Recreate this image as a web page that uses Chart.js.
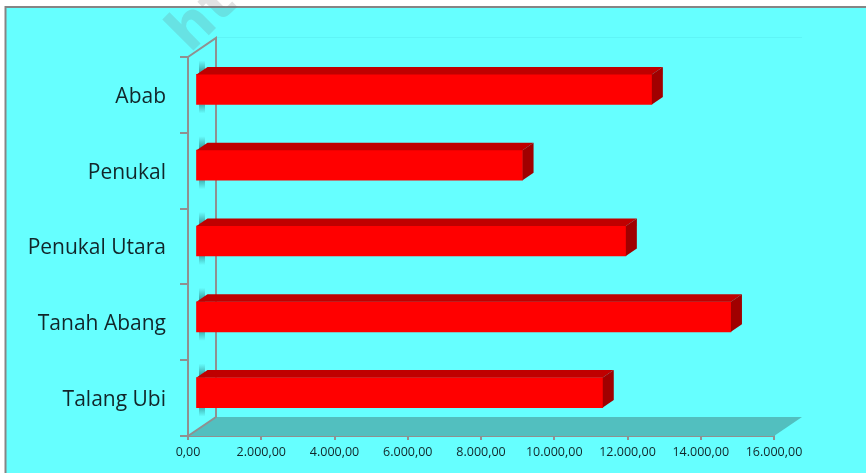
<!DOCTYPE html>
<html>
<head>
<meta charset="utf-8">
<title>Bar chart</title>
<script src="https://cdn.jsdelivr.net/npm/chart.js@4"></script>
<style>
  html, body { margin: 0; padding: 0; background: #fff; overflow: hidden; }
  canvas { display: block; }
</style>
</head>
<body>
<canvas id="chart" width="866" height="473"></canvas>
<script>
/* Data */
const categories = ['Abab', 'Penukal', 'Penukal Utara', 'Tanah Abang', 'Talang Ubi'];
const values = [12460, 8930, 11750, 14620, 11120];
const axisMax = 16000;
const axisStep = 2000;
const watermark = 'htt';

/* Colours */
const BG = '#66ffff';
const FRONT = '#ff0000';
const TOP = '#bf0000';
const SIDE = '#a00000';
const AXIS = '#909090';
const FLOOR = '#52bfbf';
const INK = '#12262a';

/* 3D look: depth of the box walls and of the bars inside them */
const WALL_DX = 28, WALL_DY = 19;
const BAR_OFF_X = 8, BAR_OFF_Y = -5.5;
const BAR_DX = 11, BAR_DY = 7.5;

const box3d = {
  id: 'box3d',
  beforeDraw(chart) {
    const { ctx, width, height } = chart;
    ctx.save();
    ctx.fillStyle = '#fff';
    ctx.fillRect(0, 0, width, height);
    ctx.fillStyle = BG;
    ctx.fillRect(6, 7, width - 6, height - 7);
    ctx.strokeStyle = '#858585';
    ctx.lineWidth = 2;
    ctx.beginPath();
    ctx.moveTo(5.5, height);
    ctx.lineTo(5.5, 7);
    ctx.lineTo(width, 7);
    ctx.stroke();

    // watermark
    ctx.translate(190, 54);
    ctx.rotate(-Math.PI / 4);
    ctx.font = 'bold 58px "DejaVu Sans"';
    ctx.fillStyle = 'rgba(110,110,115,0.2)';
    ctx.fillText(watermark, 0, 0);
    ctx.restore();
  },
  beforeDatasetsDraw(chart) {
    const { ctx, chartArea: a } = chart;
    ctx.save();
    // floor
    ctx.fillStyle = FLOOR;
    ctx.beginPath();
    ctx.moveTo(a.left, a.bottom);
    ctx.lineTo(a.left + WALL_DX, a.bottom - WALL_DY);
    ctx.lineTo(a.right + WALL_DX, a.bottom - WALL_DY);
    ctx.lineTo(a.right, a.bottom);
    ctx.closePath();
    ctx.fill();
    // faint back edge
    ctx.strokeStyle = '#5ff4f6';
    ctx.lineWidth = 1;
    ctx.beginPath();
    ctx.moveTo(a.left + WALL_DX, a.top - WALL_DY - 0.5);
    ctx.lineTo(a.right + WALL_DX, a.top - WALL_DY - 0.5);
    ctx.stroke();
    // side wall outline
    ctx.strokeStyle = AXIS;
    ctx.lineWidth = 2;
    ctx.beginPath();
    ctx.moveTo(a.left, a.top);
    ctx.lineTo(a.left + WALL_DX, a.top - WALL_DY);
    ctx.lineTo(a.left + WALL_DX, a.bottom - WALL_DY);
    ctx.lineTo(a.left, a.bottom);
    ctx.stroke();
    // bar shadows on the wall
    const x0 = a.left + BAR_OFF_X + 3;
    chart.getDatasetMeta(0).data.forEach((bar) => {
      const top = bar.y - bar.height / 2 + BAR_OFF_Y;
      const bottom = bar.y + bar.height / 2 + BAR_OFF_Y;
      [[top - 14, top], [bottom, bottom + 9]].forEach(([y1, y2]) => {
        const g = ctx.createLinearGradient(0, y1, 0, y2);
        const up = y2 === top;
        g.addColorStop(0, up ? 'rgba(40,130,130,0)' : 'rgba(40,130,130,0.6)');
        g.addColorStop(1, up ? 'rgba(40,130,130,0.9)' : 'rgba(40,130,130,0)');
        ctx.fillStyle = g;
        ctx.fillRect(x0, y1, 6, y2 - y1);
      });
    });
    ctx.restore();
  },
  beforeDatasetDraw(chart) {
    chart.ctx.save();
    chart.ctx.translate(BAR_OFF_X - 0.5, BAR_OFF_Y);
  },
  afterDatasetDraw(chart, args) {
    const { ctx } = chart;
    args.meta.data.forEach((bar) => {
      const top = bar.y - bar.height / 2;
      const bottom = bar.y + bar.height / 2;
      ctx.fillStyle = TOP;
      ctx.beginPath();
      ctx.moveTo(bar.base, top);
      ctx.lineTo(bar.base + BAR_DX, top - BAR_DY);
      ctx.lineTo(bar.x + BAR_DX, top - BAR_DY);
      ctx.lineTo(bar.x, top);
      ctx.closePath();
      ctx.fill();
      ctx.fillStyle = SIDE;
      ctx.beginPath();
      ctx.moveTo(bar.x, top);
      ctx.lineTo(bar.x + BAR_DX, top - BAR_DY);
      ctx.lineTo(bar.x + BAR_DX, bottom - BAR_DY);
      ctx.lineTo(bar.x, bottom);
      ctx.closePath();
      ctx.fill();
    });
    ctx.restore();
  }
};

new Chart(document.getElementById('chart'), {
  type: 'bar',
  plugins: [box3d],
  data: {
    labels: categories,
    datasets: [{
      data: values,
      backgroundColor: FRONT,
      borderWidth: 0,
      barThickness: 30,
      clip: false
    }]
  },
  options: {
    indexAxis: 'y',
    responsive: false,
    animation: false,
    layout: { padding: { top: 57, right: 92, bottom: 0, left: 0 } },
    plugins: { legend: { display: false }, tooltip: { enabled: false } },
    scales: {
      x: {
        min: 0,
        max: axisMax,
        afterFit: (s) => { s.height = 37; },
        grid: { drawOnChartArea: false, color: AXIS, lineWidth: 2, tickLength: 4 },
        border: { color: AXIS, width: 2 },
        ticks: {
          stepSize: axisStep,
          padding: 5,
          maxRotation: 0,
          autoSkip: false,
          color: INK,
          font: { family: '"Open Sans"', size: 12.5 },
          callback: (v) => v.toLocaleString('id-ID', { minimumFractionDigits: 2, maximumFractionDigits: 2 })
        }
      },
      y: {
        afterFit: (s) => { s.width = 188; },
        grid: { offset: true, drawOnChartArea: false, color: AXIS, lineWidth: 2, tickLength: 8 },
        border: { color: AXIS, width: 2 },
        ticks: {
          padding: 14,
          labelOffset: 2,
          color: INK,
          font: { family: '"Open Sans"', size: 21 }
        }
      }
    }
  }
});
</script>
</body>
</html>
